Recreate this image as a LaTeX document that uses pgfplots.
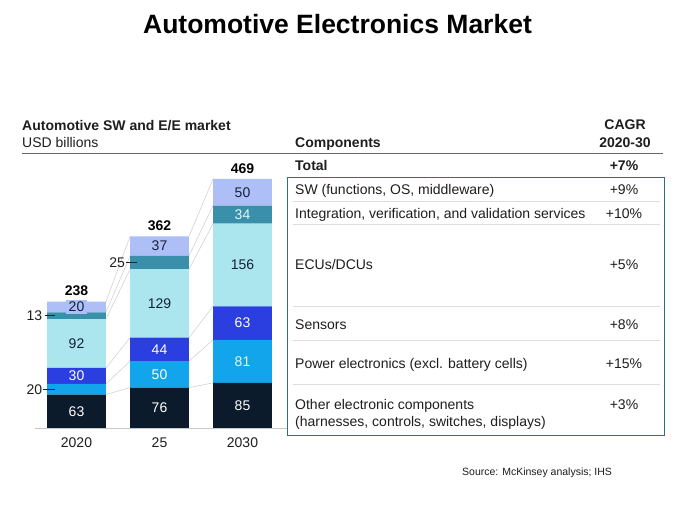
\documentclass[border=0pt]{standalone}
\usepackage{fontspec}
\setmainfont{Liberation Sans}
\usepackage{pgfplots}
\pgfplotsset{compat=1.18}
\definecolor{cNavy}{HTML}{0C1B2B}
\definecolor{cPower}{HTML}{13A5EC}
\definecolor{cSens}{HTML}{2B3FE0}
\definecolor{cEcu}{HTML}{ABE5EE}
\definecolor{cInt}{HTML}{3A90AA}
\definecolor{cSW}{HTML}{AEBEF7}
\definecolor{cBox}{HTML}{2E6E8C}
\definecolor{cSep}{HTML}{DDDDDD}
\definecolor{cConn}{HTML}{D3D3D3}
\definecolor{cTxt}{HTML}{1E1E1E}
\definecolor{cDark}{HTML}{14213A}
\definecolor{cLite}{HTML}{E2F6FA}
\newcommand{\fA}{\fontsize{14bp}{17bp}\selectfont}
\newcommand{\fB}{\fontsize{14bp}{17bp}\selectfont\bfseries}
\newcommand{\fT}{\fontsize{26.5bp}{30bp}\selectfont\bfseries}
\newcommand{\fS}{\fontsize{10.5bp}{12bp}\selectfont}
\tikzset{lbl/.style={inner sep=0pt, font=\fA}}
\pgfplotsset{myaxis/.style={
  at={(35bp,78bp)}, anchor=south west, scale only axis,
  width=249bp, height=249bp,
  xmin=-0.5, xmax=2.5, ymin=0, ymax=469,
  hide axis, clip=false},
  conn/.style={cConn, line width=0.6pt, no marks, forget plot}}
\begin{document}
\begin{tikzpicture}[x=1bp,y=1bp]
\path[fill=white] (0,0) rectangle (675,506);
\node[anchor=base, inner sep=0pt, font=\fT] at (337.5,472) {Automotive Electronics Market};
\node[anchor=base west, inner sep=0pt, font=\fB, text=cTxt] at (22,375) {Automotive SW and E/E market};
\node[anchor=base west, inner sep=0pt, font=\fA, text=cTxt] at (22,358.5) {USD billions};
\node[anchor=base west, inner sep=0pt, font=\fB, text=cTxt] at (295,358.5) {Components};
\node[anchor=base, inner sep=0pt, font=\fB, text=cTxt] at (625,376) {CAGR};
\node[anchor=base, inner sep=0pt, font=\fB, text=cTxt] at (625,358.5) {2020-30};
\draw[black!60, line width=0.8pt] (22,353) -- (663,353);
\node[anchor=base west, inner sep=0pt, font=\fB, text=cTxt] at (295,335) {Total};
\node[anchor=base, inner sep=0pt, font=\fB, text=cTxt] at (624,335) {+7\%};
\draw[cBox, line width=1pt] (287,328) rectangle (664,70);
\draw[cSep, line width=1pt] (293,304) -- (660,304);
\draw[cSep, line width=1pt] (293,281) -- (660,281);
\draw[cSep, line width=1pt] (293,199) -- (660,199);
\draw[cSep, line width=1pt] (293,165) -- (660,165);
\draw[cSep, line width=1pt] (293,121) -- (660,121);
\node[lbl, text=cTxt, anchor=base west] at (295,311) {SW (functions, OS, middleware)};
\node[lbl, text=cTxt, anchor=base] at (624,311) {+9\%};
\node[lbl, text=cTxt, anchor=base west] at (295,287) {Integration, verification, and validation services};
\node[lbl, text=cTxt, anchor=base] at (624,287) {+10\%};
\node[lbl, text=cTxt, anchor=base west] at (295,236) {ECUs/DCUs};
\node[lbl, text=cTxt, anchor=base] at (624,236) {+5\%};
\node[lbl, text=cTxt, anchor=base west] at (295,176) {Sensors};
\node[lbl, text=cTxt, anchor=base] at (624,176) {+8\%};
\node[lbl, text=cTxt, anchor=base west] at (295,137) {Power electronics (excl. battery cells)};
\node[lbl, text=cTxt, anchor=base] at (624,137) {+15\%};
\node[lbl, text=cTxt, anchor=base west] at (295,96) {Other electronic components};
\node[lbl, text=cTxt, anchor=base west] at (295,79) {(harnesses, controls, switches, displays)};
\node[lbl, text=cTxt, anchor=base] at (624,96) {+3\%};
\node[anchor=base west, inner sep=0pt, font=\fS, text=cTxt] at (462,30) {Source: McKinsey analysis; IHS};
% connector lines
\begin{axis}[myaxis]
\addplot[conn] coordinates {(0.355,63) (0.645,76)};
\addplot[conn] coordinates {(0.355,83) (0.645,126)};
\addplot[conn] coordinates {(0.355,113) (0.645,170)};
\addplot[conn] coordinates {(0.355,205) (0.645,299)};
\addplot[conn] coordinates {(0.355,218) (0.645,324)};
\addplot[conn] coordinates {(0.355,238) (0.645,361)};
\addplot[conn] coordinates {(1.355,76) (1.645,85)};
\addplot[conn] coordinates {(1.355,126) (1.645,166)};
\addplot[conn] coordinates {(1.355,170) (1.645,229)};
\addplot[conn] coordinates {(1.355,299) (1.645,385)};
\addplot[conn] coordinates {(1.355,324) (1.645,419)};
\addplot[conn] coordinates {(1.355,361) (1.645,469)};
\draw[black!22, line width=0.8pt] (axis cs:-0.5,0) -- (axis cs:2.54,0);
\end{axis}
% bars
\begin{axis}[myaxis, ybar stacked, bar width=0.71]
\addplot[fill=cNavy, draw=none] coordinates {(0,63) (1,76) (2,85)};
\addplot[fill=cPower, draw=none] coordinates {(0,20) (1,50) (2,81)};
\addplot[fill=cSens, draw=none] coordinates {(0,30) (1,44) (2,63)};
\addplot[fill=cEcu, draw=none] coordinates {(0,92) (1,129) (2,156)};
\addplot[fill=cInt, draw=none] coordinates {(0,13) (1,25) (2,34)};
\addplot[fill=cSW, draw=none] coordinates {(0,20) (1,37) (2,50)};
\end{axis}
% labels (second overlay axis, same geometry)
\begin{axis}[myaxis]
\node[lbl, text=white] at (axis cs:0,31.5) {63};
\node[lbl, text=white] at (axis cs:0,98) {30};
\node[lbl, text=cDark] at (axis cs:0,159) {92};
\node[lbl, text=cDark, fill=cSW, inner xsep=3pt, inner ysep=2pt] at (axis cs:0,228) {20};
\node[lbl, text=white] at (axis cs:1,38) {76};
\node[lbl, text=white] at (axis cs:1,101) {50};
\node[lbl, text=white] at (axis cs:1,148) {44};
\node[lbl, text=cDark] at (axis cs:1,234.5) {129};
\node[lbl, text=cDark] at (axis cs:1,342.5) {37};
\node[lbl, text=white] at (axis cs:2,42.5) {85};
\node[lbl, text=cLite] at (axis cs:2,125.5) {81};
\node[lbl, text=white] at (axis cs:2,197.5) {63};
\node[lbl, text=cDark] at (axis cs:2,307) {156};
\node[lbl, text=cLite] at (axis cs:2,402) {34};
\node[lbl, text=cDark] at (axis cs:2,444) {50};
\node[lbl, anchor=east, text=cTxt] at (axis cs:-0.41,73) {20};
\node[lbl, anchor=east, text=cTxt] at (axis cs:-0.41,211.5) {13};
\node[lbl, anchor=east, text=cTxt] at (axis cs:0.585,311.5) {25};
\node[lbl, anchor=base, font=\fB, text=black, yshift=6pt] at (axis cs:0,238) {238};
\node[lbl, anchor=base, font=\fB, text=black, yshift=6pt] at (axis cs:1,361) {362};
\node[lbl, anchor=base, font=\fB, text=black, yshift=6pt] at (axis cs:2,469) {469};
\node[lbl, anchor=base, text=cTxt, yshift=-20pt] at (axis cs:0,0) {2020};
\node[lbl, anchor=base, text=cTxt, yshift=-20pt] at (axis cs:1,0) {25};
\node[lbl, anchor=base, text=cTxt, yshift=-20pt] at (axis cs:2,0) {2030};
\draw[cDark, line width=1.3pt] (axis cs:-0.40,73) -- (axis cs:-0.26,73);
\draw[cDark, line width=1.3pt] (axis cs:-0.38,211.5) -- (axis cs:-0.26,211.5);
\draw[cDark, line width=1.3pt] (axis cs:0.597,311.5) -- (axis cs:0.73,311.5);
\end{axis}
\end{tikzpicture}
\end{document}
